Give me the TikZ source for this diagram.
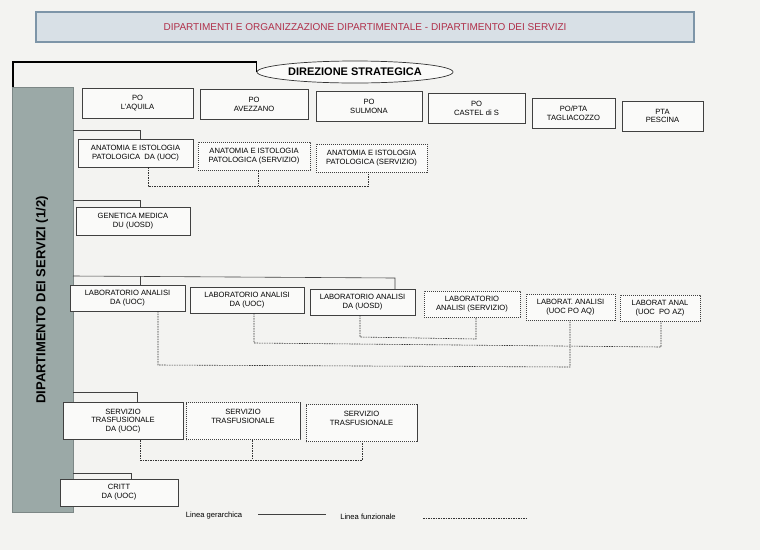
\documentclass[tikz,border=0pt]{standalone}
\usepackage{fontspec}
\setmainfont{Liberation Sans}
\usetikzlibrary{shapes.geometric}
\definecolor{paper}{HTML}{F3F3F1}
\definecolor{banner}{HTML}{D8E0E6}
\definecolor{bannerb}{HTML}{7D95A8}
\definecolor{titler}{HTML}{B0304A}
\definecolor{side}{HTML}{9BA9A7}
\begin{document}
\begin{tikzpicture}[x=1pt,y=-1pt,
  box/.style={draw=black!75,line width=0.6pt,fill=white!60!paper,align=center,font=\fontsize{7.6}{8.8}\selectfont,inner sep=1pt},
  dbox/.style={box,dashed,dash pattern=on 1.2pt off 0.8pt},
  hier/.style={draw=black!75,line width=0.6pt},
  func/.style={draw=black!80,line width=0.6pt,dash pattern=on 1.5pt off 1pt}]
\fill[paper] (0,0) rectangle (760,550);
\useasboundingbox (0,0) rectangle (760,550);
% banner
\node[draw=bannerb,line width=1.6pt,fill=banner,minimum width=658pt,minimum height=30pt,font=\fontsize{10}{11}\selectfont\color{titler}] (title) at (365,27) {DIPARTIMENTI E ORGANIZZAZIONE DIPARTIMENTALE - DIPARTIMENTO DEI SERVIZI};
% direzione
\node[draw=black!80,ellipse,line width=0.7pt,fill=white!60!paper,minimum width=196pt,minimum height=22pt,inner sep=0pt,font=\fontsize{11}{12}\selectfont\bfseries] (dir) at (355,72) {DIREZIONE STRATEGICA};
\coordinate (tl) at (13,62);
\coordinate (bl) at (13,283);
\coordinate (bt) at (30,283);
\draw[line width=1.4pt,black] (dir.west) -- (dir.west|-tl) -- (tl) -- (bl) -- (bt);
% side bar
\node[draw=side!80!black,fill=side,minimum width=61pt,minimum height=425pt,inner sep=0pt] (sb) at (42.5,299.5) {};
\node[rotate=90,font=\fontsize{13}{14}\selectfont\bfseries] (sbt) at (42,300) {DIPARTIMENTO DEI SERVIZI (1/2)};
% PO row
\node[box,minimum width=111pt,minimum height=30pt] (p1) at (137.5,103) {PO\\L'AQUILA};
\node[box,minimum width=108pt,minimum height=30pt] (p2) at (254,104) {PO\\AVEZZANO};
\node[box,minimum width=106pt,minimum height=30pt] (p3) at (369,106) {PO\\SULMONA};
\node[box,minimum width=97pt,minimum height=30pt] (p4) at (476.5,108) {PO\\CASTEL di S};
\node[box,minimum width=83pt,minimum height=30pt] (p5) at (573.5,113) {PO/PTA\\TAGLIACOZZO};
\node[box,minimum width=81pt,minimum height=30pt] (p6) at (662.5,116) {PTA\\PESCINA};
% Anatomia
\node[box,minimum width=115pt,minimum height=28pt] (a1) at (135.5,153) {ANATOMIA E ISTOLOGIA\\PATOLOGICA\ \ DA (UOC)};
\node[dbox,minimum width=112pt,minimum height=28pt] (a2) at (254,156) {ANATOMIA E ISTOLOGIA\\PATOLOGICA (SERVIZIO)};
\node[dbox,minimum width=111pt,minimum height=28pt] (a3) at (371.5,158) {ANATOMIA E ISTOLOGIA\\PATOLOGICA (SERVIZIO)};
\draw[hier] (73,130) -- (140,130) -- (140,139);
\draw[func] (148,167) -- (148,186) -- (368,186) -- (368,172);
\draw[func] (258,170) -- (258,186);
% Genetica
\node[box,minimum width=114pt,minimum height=28pt] (g) at (133,221) {GENETICA MEDICA\\DU (UOSD)};
\draw[hier] (73,200) -- (140,200) -- (140,207);
% Laboratori
\node[box,minimum width=115pt,minimum height=26pt] (l1) at (127.5,298) {LABORATORIO ANALISI\\DA (UOC)};
\node[box,minimum width=114pt,minimum height=26pt] (l2) at (247,300) {LABORATORIO ANALISI\\DA (UOC)};
\node[box,minimum width=105pt,minimum height=26pt] (l3) at (362.5,302) {LABORATORIO ANALISI\\DA (UOSD)};
\node[dbox,minimum width=96pt,minimum height=26pt] (l4) at (472,304) {LABORATORIO\\ANALISI (SERVIZIO)};
\node[dbox,minimum width=89pt,minimum height=26pt] (l5) at (570.5,307) {LABORAT. ANALISI\\(UOC PO AQ)};
\node[dbox,minimum width=80pt,minimum height=26pt] (l6) at (660,308) {LABORAT ANAL\\(UOC\ \ PO AZ)};
\draw[hier] (73,276) -- (395,278) -- (395,289);
\draw[hier] (140,276) -- (140,285);
\draw[func] (360,315) -- (360,337) -- (476,339) -- (476,317);
\draw[func] (254,313) -- (254,343) -- (661,347) -- (661,321);
\draw[func] (158,311) -- (158,365) -- (570,367) -- (570,320);
% Trasfusionale
\node[box,minimum width=120pt,minimum height=37pt] (t1) at (123,421) {SERVIZIO\\TRASFUSIONALE\\DA (UOC)};
\node[dbox,minimum width=114pt,minimum height=37pt] (t2) at (243,421) {SERVIZIO\\TRASFUSIONALE\\ };
\node[dbox,minimum width=111pt,minimum height=37pt] (t3) at (361.5,423) {SERVIZIO\\TRASFUSIONALE\\ };
\draw[hier] (73,392) -- (137,392) -- (137,402);
\draw[func] (140,440) -- (140,460) -- (362,460) -- (362,442);
\draw[func] (252,440) -- (252,460);
% Critt
\node[box,minimum width=118pt,minimum height=27pt] (c) at (119,492.5) {CRITT\\DA (UOC)};
\draw[hier] (73,473) -- (131,473) -- (131,479);
% legend
\node[font=\fontsize{7.6}{8}\selectfont] (lg) at (214,516) {Linea gerarchica};
\node[font=\fontsize{7.6}{8}\selectfont] (lf) at (368,517) {Linea funzionale};
\coordinate (lga) at (258,514); \coordinate (lgb) at (326,514);
\coordinate (lfa) at (423,518); \coordinate (lfb) at (527,518);
\draw[hier] (lga) -- (lgb);
\draw[func] (lfa) -- (lfb);
\end{tikzpicture}
\end{document}
